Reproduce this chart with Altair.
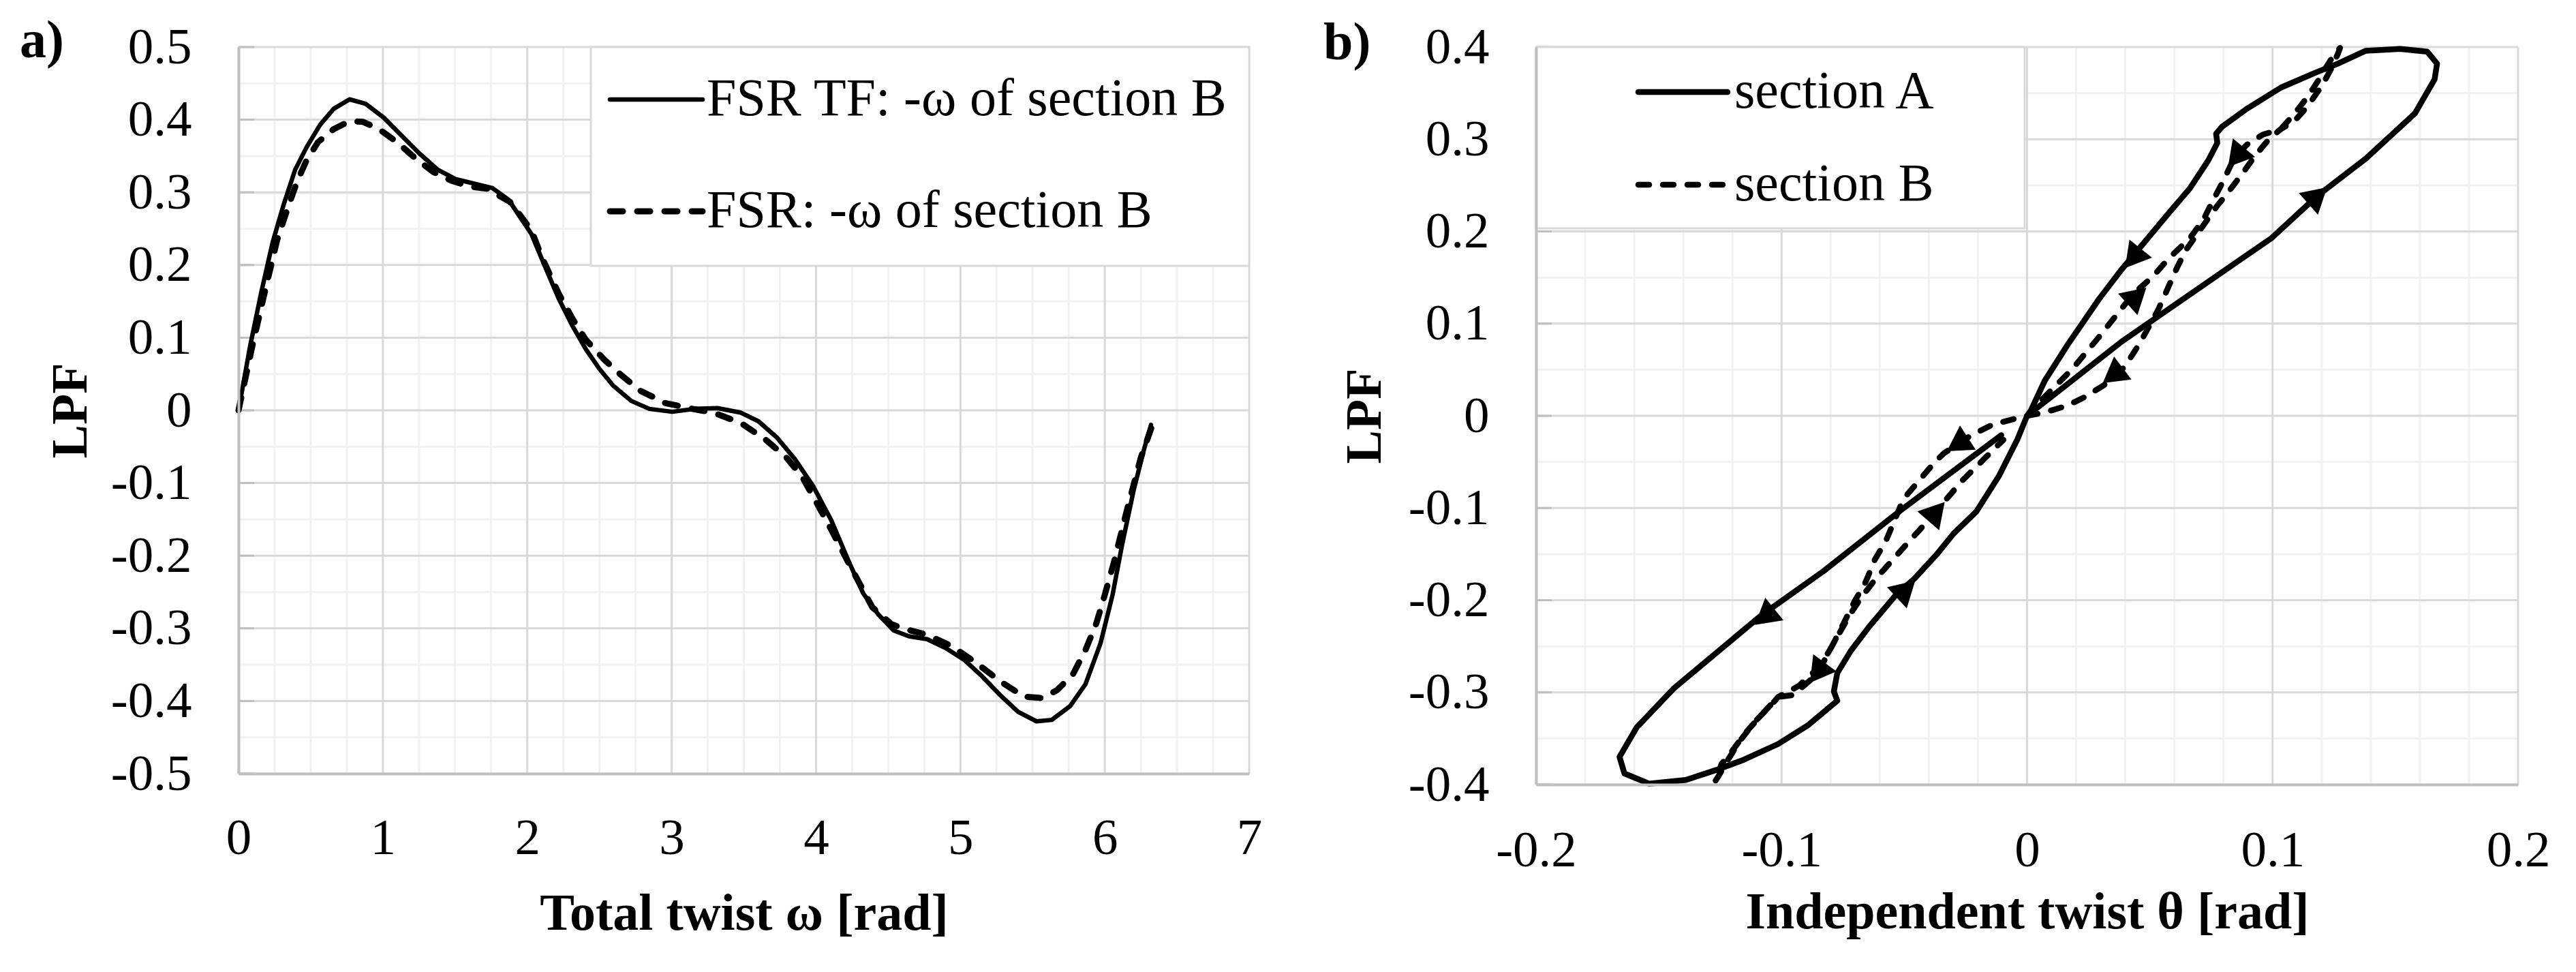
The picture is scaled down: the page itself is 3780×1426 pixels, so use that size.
import altair as alt
import pandas as pd

FONT = "'Liberation Serif', 'Times New Roman', Times, serif"
MAJOR = "#d9d9d9"
MINOR = "#f2f2f2"
AXISC = "#bfbfbf"

# ---------------- Panel a data ----------------
OMEGA_TF = [0.0, 0.079, 0.157, 0.236, 0.314, 0.392, 0.471, 0.565, 0.659, 0.769, 0.879, 1.005, 1.13, 1.256,
            1.381, 1.507, 1.633, 1.758, 1.87, 2.028, 2.123, 2.217, 2.311, 2.406, 2.5, 2.595, 2.72, 2.846,
            3.004, 3.161, 3.318, 3.476, 3.601, 3.727, 3.853, 3.979, 4.105, 4.22, 4.327, 4.432, 4.538, 4.644,
            4.77, 4.896, 5.024, 5.15, 5.276, 5.4, 5.527, 5.633, 5.76, 5.866, 5.97, 6.055, 6.12, 6.2, 6.27, 6.32]
LPF_TF = [0.0, 0.087, 0.162, 0.231, 0.284, 0.331, 0.362, 0.393, 0.415, 0.428, 0.422, 0.403, 0.378, 0.353,
          0.331, 0.318, 0.312, 0.306, 0.290, 0.243, 0.198, 0.154, 0.117, 0.084, 0.057, 0.034, 0.013, 0.002,
          -0.002, 0.002, 0.003, -0.003, -0.015, -0.037, -0.067, -0.104, -0.151, -0.205, -0.252, -0.281, -0.303,
          -0.311, -0.315, -0.327, -0.343, -0.366, -0.392, -0.415, -0.428, -0.426, -0.407, -0.377, -0.321,
          -0.253, -0.185, -0.11, -0.055, -0.02]
OMEGA_FSR = [0.0, 0.094, 0.188, 0.267, 0.345, 0.408, 0.471, 0.55, 0.659, 0.769, 0.863, 0.973, 1.099, 1.224,
             1.35, 1.476, 1.601, 1.727, 1.79, 1.88, 2.028, 2.107, 2.217, 2.311, 2.406, 2.532, 2.642, 2.783,
             2.956, 3.145, 3.287, 3.476, 3.649, 3.79, 3.9, 3.995, 4.105, 4.22, 4.39, 4.52, 4.6, 4.77, 4.935,
             5.106, 5.276, 5.44, 5.569, 5.67, 5.78, 5.866, 5.94, 5.99, 6.065, 6.15, 6.25, 6.33]
LPF_FSR = [0.0, 0.087, 0.168, 0.234, 0.281, 0.316, 0.344, 0.369, 0.387, 0.398, 0.397, 0.387, 0.369, 0.347,
           0.328, 0.316, 0.308, 0.305, 0.297, 0.287, 0.248, 0.208, 0.161, 0.127, 0.097, 0.070, 0.050, 0.027,
           0.010, 0.002, -0.003, -0.017, -0.040, -0.064, -0.090, -0.124, -0.164, -0.208, -0.271, -0.294,
           -0.300, -0.309, -0.324, -0.347, -0.373, -0.394, -0.396, -0.385, -0.363, -0.330, -0.294, -0.261,
           -0.208, -0.14, -0.065, -0.02]
SERIES_A = ["FSR TF: -\u03c9  of section B", "FSR: -\u03c9 of section B"]
XTICKS_A = [0, 1, 2, 3, 4, 5, 6, 7]
YTICKS_A = [-0.5, -0.4, -0.3, -0.2, -0.1, 0.0, 0.1, 0.2, 0.3, 0.4, 0.5]
XMINOR_A = [0.25, 0.5, 0.75, 1.25, 1.5, 1.75, 2.25, 2.5, 2.75, 3.25, 3.5, 3.75, 4.25, 4.5, 4.75,
            5.25, 5.5, 5.75, 6.25, 6.5, 6.75]
YMINOR_A = [-0.45, -0.35, -0.25, -0.15, -0.05, 0.05, 0.15, 0.25, 0.35, 0.45]

# ---------------- Panel b data ----------------
THETA_SA = [0.0, 0.0386, 0.0997, 0.1184, 0.138, 0.158, 0.166, 0.167, 0.163, 0.152, 0.138, 0.1266, 0.1173,
            0.1034, 0.0895, 0.0794, 0.077, 0.0775, 0.0738, 0.0664, 0.0571, 0.0479, 0.0386, 0.0294, 0.0165,
            0.0072, 0.0016, 0.0, -0.004, -0.0114, -0.0207, -0.030, -0.037, -0.046, -0.053, -0.0644, -0.0718,
            -0.0773, -0.0787, -0.0773, -0.0894, -0.1014, -0.1153, -0.1264, -0.139, -0.154, -0.164, -0.166,
            -0.159, -0.144, -0.1292, -0.1085, -0.0829, -0.0517, -0.0105]
LPF_SA = [0.0, 0.0806, 0.193, 0.239, 0.279, 0.328, 0.365, 0.382, 0.395, 0.398, 0.396, 0.382, 0.372,
          0.356, 0.333, 0.3135, 0.306, 0.296, 0.277, 0.247, 0.218, 0.1885, 0.159, 0.127, 0.077,
          0.038, 0.006, 0.0, -0.026, -0.065, -0.104, -0.128, -0.151, -0.177, -0.193, -0.229, -0.255,
          -0.279, -0.299, -0.309, -0.336, -0.356, -0.373, -0.384, -0.395, -0.399, -0.388, -0.370,
          -0.338, -0.296, -0.263, -0.217, -0.1685, -0.103, -0.021]
THETA_SB = [0.0062, 0.0183, 0.0293, 0.0432, 0.0516, 0.0571, 0.0664, 0.0719, 0.0756, 0.0794, 0.0821, 0.0845,
            0.0895, 0.096, 0.1034,
            0.107, 0.1108, 0.1145, 0.1182, 0.1218, 0.1256, 0.1275,
            0.1265, 0.1238, 0.1201, 0.1164, 0.1127, 0.109, 0.1034,
            0.0988, 0.096, 0.0923, 0.0886, 0.0849, 0.0812, 0.0775, 0.0682, 0.0645, 0.0608, 0.0571, 0.0534, 0.0462,
            0.0397, 0.0313, 0.0239, 0.0164, 0.0072, 0.0, -0.004, -0.0142, -0.0226, -0.0338, -0.0375, -0.0487,
            -0.0514, -0.0574, -0.062, -0.0657, -0.0704, -0.0745, -0.0787, -0.0829, -0.0884, -0.0954, -0.1014,
            -0.1079, -0.1144, -0.12, -0.1245, -0.1273,
            -0.1255, -0.1218, -0.1171, -0.1106, -0.1042, -0.1014,
            -0.093, -0.0865, -0.081, -0.0765, -0.072, -0.0675, -0.062, -0.056, -0.05, -0.0435, -0.0366,
            -0.0263, -0.0096]
LPF_SB = [0.018, 0.0504, 0.0855, 0.132, 0.152, 0.169, 0.193, 0.213, 0.233, 0.252, 0.267, 0.280,
          0.294, 0.305, 0.311,
          0.322, 0.334, 0.347, 0.362, 0.378, 0.394, 0.399,
          0.392, 0.376, 0.358, 0.344, 0.331, 0.320, 0.311,
          0.301, 0.292, 0.280, 0.266, 0.253, 0.240, 0.228, 0.193, 0.179, 0.159, 0.137, 0.115, 0.080,
          0.0528, 0.0332, 0.0209, 0.011, 0.0037, 0.0, -0.0025, -0.0098, -0.0209, -0.0405, -0.050, -0.085,
          -0.097, -0.135, -0.156, -0.180, -0.202, -0.224, -0.246, -0.267, -0.287, -0.303, -0.305,
          -0.3236, -0.343, -0.363, -0.378, -0.3975,
          -0.39, -0.373, -0.353, -0.331, -0.3138, -0.305,
          -0.293, -0.277, -0.257, -0.236, -0.215, -0.197, -0.178, -0.160, -0.142, -0.123, -0.102,
          -0.070, -0.026]
ARROW_A_THETA = [0.1184, 0.0431, -0.1069, -0.0493]
ARROW_A_LPF = [0.2389, 0.1708, -0.2182, -0.1882]
ARROW_A_DIR = [48.5, 218.7, 231.0, 47.0]
ARROW_B_THETA = [0.0448, 0.0851, 0.0349, -0.0284, -0.0369, -0.0854]
ARROW_B_LPF = [0.130, 0.2804, 0.0437, -0.031, -0.1037, -0.2788]
ARROW_B_DIR = [48.0, 219.6, 233.0, 237.0, 41.0, 216.5]
SERIES_B = ["section A", "section B"]
XTICKS_B = [-0.2, -0.1, 0.0, 0.1, 0.2]
YTICKS_B = [-0.4, -0.3, -0.2, -0.1, 0.0, 0.1, 0.2, 0.3, 0.4]
XMINOR_B = [-0.18, -0.16, -0.14, -0.12, -0.08, -0.06, -0.04, -0.02, 0.02, 0.04, 0.06, 0.08,
            0.12, 0.14, 0.16, 0.18]
YMINOR_B = [-0.35, -0.25, -0.15, -0.05, 0.05, 0.15, 0.25, 0.35]

PANEL_TAGS = ["a)", "b)"]
TITLES = {"xa": "Total twist \u03c9 [rad]", "xb": "Independent twist \u03b8 [rad]", "y": "LPF"}

LABEL_EXPR = ("datum.value == 0 ? '0' : (datum.value < 0 ? '-' + format(-datum.value, '.1f') "
              ": format(datum.value, '.1f'))")

W_A, H_A = 1483, 1066
W_B, H_B = 1441, 1082


def x_axis(values, title, w, title_y, pad, integer=False):
    kw = dict(values=values, grid=False, ticks=False, domainColor=AXISC, domainWidth=4,
              labelFont=FONT, labelFontSize=75, labelColor="black", labelPadding=pad,
              labelFlush=False, labelOverlap=False,
              title=title, titleFont=FONT, titleFontSize=76, titleFontWeight="bold",
              titleColor="black", titleX=w / 2, titleY=title_y, titleAlign="center",
              titleBaseline="alphabetic", zindex=1)
    if integer:
        kw["format"] = "d"
    else:
        kw["labelExpr"] = LABEL_EXPR
    return alt.Axis(**kw)


def y_axis(values, title, h, title_x):
    return alt.Axis(values=values, labelExpr=LABEL_EXPR, grid=False, ticks=False, domainColor=AXISC,
                    domainWidth=4, labelFont=FONT, labelFontSize=75, labelColor="black",
                    labelPadding=69, labelOverlap=False, labelFlush=False,
                    title=title, titleFont=FONT, titleFontSize=74, titleFontWeight="bold",
                    titleColor="black", titleAngle=270, titleX=title_x, titleY=h / 2,
                    titleAlign="center", titleBaseline="alphabetic", zindex=1)


def grid_layers(X, Y, xmaj, xmin, ymaj, ymin):
    return [
        alt.Chart(pd.DataFrame({"x": xmin})).mark_rule(color=MINOR, strokeWidth=3).encode(x=X),
        alt.Chart(pd.DataFrame({"y": ymin})).mark_rule(color=MINOR, strokeWidth=3).encode(y=Y),
        alt.Chart(pd.DataFrame({"x": xmaj})).mark_rule(color=MAJOR, strokeWidth=3).encode(x=X),
        alt.Chart(pd.DataFrame({"y": ymaj})).mark_rule(color=MAJOR, strokeWidth=3).encode(y=Y),
        alt.Chart(pd.DataFrame({"y": ymaj})).mark_rule(color=AXISC, strokeWidth=3).encode(
            y=Y, x=alt.value(0), x2=alt.value(23)),
    ]


def legend_layers(labels, box, sample, ys, text_x, widths, dashes):
    layers = [alt.Chart(pd.DataFrame({"label": [labels[0]]})).mark_rect(
        fill="white", stroke=MAJOR, strokeWidth=3).encode(
        x=alt.value(box[0]), x2=alt.value(box[1]), y=alt.value(box[2]), y2=alt.value(box[3]))]
    for lab, y, w, d in zip(labels, ys, widths, dashes):
        df = pd.DataFrame({"label": [lab]})
        kw = dict(color="black", strokeWidth=w, strokeCap="round")
        if d:
            kw["strokeDash"] = d
        layers.append(alt.Chart(df).mark_rule(**kw).encode(
            x=alt.value(sample[0]), x2=alt.value(sample[1]), y=alt.value(y)))
        layers.append(alt.Chart(df).mark_text(font=FONT, fontSize=78, align="left", baseline="middle",
                                              color="black").encode(
            x=alt.value(text_x), y=alt.value(y), text="label:N"))
    return layers


def tag_layer(tag, x, y):
    return alt.Chart(pd.DataFrame({"tag": [tag]})).mark_text(
        font=FONT, fontSize=78, fontWeight="bold", align="left", baseline="alphabetic",
        color="black").encode(x=alt.value(x), y=alt.value(y), text="tag:N")


def anchor_layer(tag, x, y):
    return alt.Chart(pd.DataFrame({"tag": [tag]})).mark_rect(opacity=0).encode(
        x=alt.value(x), x2=alt.value(x + 1), y=alt.value(y), y2=alt.value(y + 1))


def path_df(xs, ys):
    return pd.DataFrame({"x": xs, "y": ys, "i": list(range(len(xs)))})


# ---------------- Panel a ----------------
XA = alt.X("x:Q", scale=alt.Scale(domain=[0, 7], nice=False, zero=False),
           axis=x_axis(XTICKS_A, TITLES["xa"], W_A, 228, 58, integer=True))
YA = alt.Y("y:Q", scale=alt.Scale(domain=[-0.5, 0.5], nice=False, zero=False),
           axis=y_axis(YTICKS_A, TITLES["y"], H_A, -224))

layers_a = [anchor_layer(PANEL_TAGS[0], -342, -61)]
layers_a += grid_layers(XA, YA, XTICKS_A, XMINOR_A, YTICKS_A, YMINOR_A)
layers_a += legend_layers(SERIES_A, (517, W_A, 0, 321), (545, 681), (77, 241), 687,
                          (6.5, 9), (None, [19, 21]))
layers_a.append(tag_layer(PANEL_TAGS[0], -321, 15))
layers_a.append(alt.Chart(path_df(OMEGA_TF, LPF_TF)).mark_line(
    color="black", strokeWidth=6.5, strokeCap="round", strokeJoin="round").encode(
    x=XA, y=YA, order="i:Q"))
layers_a.append(alt.Chart(path_df(OMEGA_FSR, LPF_FSR)).mark_line(
    color="black", strokeWidth=9, strokeCap="round", strokeJoin="round", strokeDash=[19, 21]).encode(
    x=XA, y=YA, order="i:Q"))
panel_a = alt.layer(*layers_a).properties(width=W_A, height=H_A)

# ---------------- Panel b ----------------
XB = alt.X("x:Q", scale=alt.Scale(domain=[-0.2, 0.2], nice=False, zero=False),
           axis=x_axis(XTICKS_B, TITLES["xb"], W_B, 210, 60))
YB = alt.Y("y:Q", scale=alt.Scale(domain=[-0.4, 0.4], nice=False, zero=False),
           axis=y_axis(YTICKS_B, TITLES["y"], H_B, -229))

layers_b = [anchor_layer(PANEL_TAGS[1], 1517, 1348)]
layers_b += grid_layers(XB, YB, XTICKS_B, XMINOR_B, YTICKS_B, YMINOR_B)
layers_b += legend_layers(SERIES_B, (0, 717, 0, 266), (150, 281), (66, 202), 291,
                          (8.5, 8.5), (None, [16, 20]))
layers_b.append(tag_layer(PANEL_TAGS[1], -312, 18))
layers_b.append(alt.Chart(path_df(THETA_SA, LPF_SA)).mark_line(
    color="black", strokeWidth=8.5, strokeCap="round", strokeJoin="round").encode(
    x=XB, y=YB, order="i:Q"))
layers_b.append(alt.Chart(path_df(THETA_SB, LPF_SB)).mark_line(
    color="black", strokeWidth=8.5, strokeCap="round", strokeJoin="round", strokeDash=[16, 20]).encode(
    x=XB, y=YB, order="i:Q"))
arrows = pd.DataFrame({
    "x": ARROW_A_THETA + ARROW_B_THETA,
    "y": ARROW_A_LPF + ARROW_B_LPF,
    "a": ARROW_A_DIR + ARROW_B_DIR,
})
layers_b.append(alt.Chart(arrows).mark_point(
    shape="triangle-up", filled=True, color="black", opacity=1, size=1800, strokeWidth=0).encode(
    x=XB, y=YB, angle=alt.Angle("a:Q", scale=None)))
panel_b = alt.layer(*layers_b).properties(width=W_B, height=H_B)

chart = alt.hconcat(panel_a, panel_b, spacing=421, bounds="flush").properties(
    padding=0, background="white").configure_view(strokeWidth=0)

chart.save("out.html", embed_options={"renderer": "svg", "actions": False})
